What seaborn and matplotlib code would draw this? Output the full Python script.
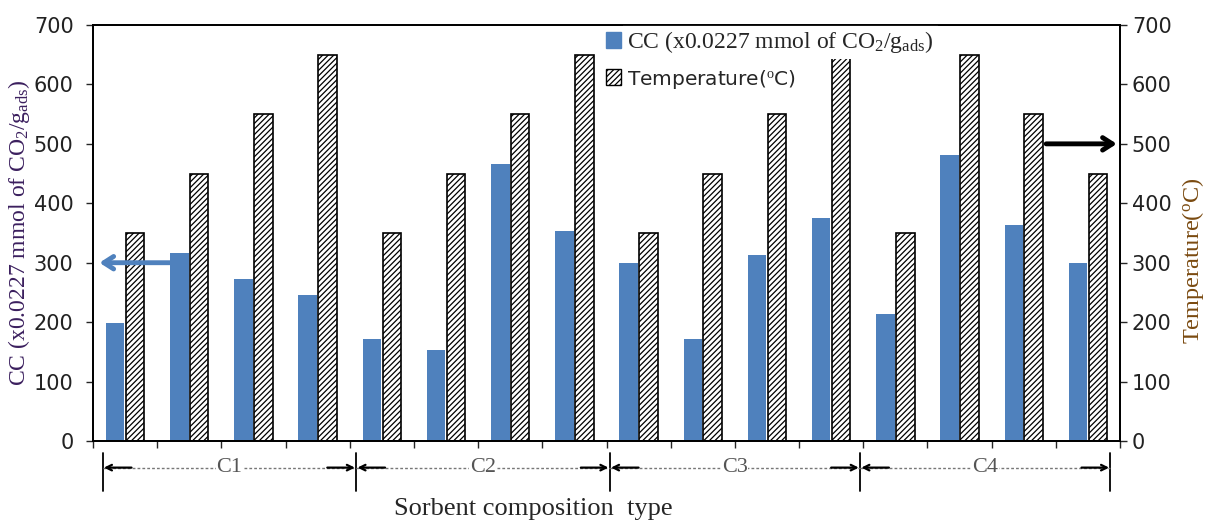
import numpy as np
import pandas as pd
import matplotlib
matplotlib.use("Agg")
import matplotlib.pyplot as plt
import matplotlib.transforms as mtransforms
from matplotlib.patches import Patch
import seaborn as sns

# ---- data ----
groups = ["C1", "C2", "C3", "C4"]
cc_values = [198, 317, 272, 246, 172, 153, 466, 354, 300, 172, 313, 376, 213, 482, 364, 300]
temp_values = [350, 450, 550, 650, 350, 450, 550, 650, 350, 450, 550, 650, 350, 650, 550, 450]
y_ticks = [0, 100, 200, 300, 400, 500, 600, 700]
cc_label = "CC (x0.0227 mmol of CO$_2$/g$_{\\mathrm{ads}}$)"
temp_label = "Temperature($^{\\mathrm{o}}$C)"
xlabel = "Sorbent composition  type"

cats = [f"{g}-{i+1}" for g in groups for i in range(4)]
df = pd.DataFrame({
    "cat": cats * 2,
    "value": cc_values + temp_values,
    "series": ["CC"] * len(cats) + ["Temp"] * len(cats),
})

sns.set_style("white")
plt.rcParams["font.family"] = ["DejaVu Sans"]
plt.rcParams["mathtext.fontset"] = "custom"
plt.rcParams["mathtext.rm"] = "Liberation Serif"
plt.rcParams["mathtext.it"] = "Liberation Serif:italic"
plt.rcParams["hatch.linewidth"] = 0.9

blue = "#4F81BD"
fig = plt.figure(figsize=(12.06, 5.23), dpi=100)
ax = fig.add_axes([93 / 1206, 1 - 441 / 523, 1027 / 1206, 416 / 523])

sns.barplot(data=df, x="cat", y="value", hue="series", order=cats,
            hue_order=["CC", "Temp"], palette=[blue, "white"],
            width=0.62, gap=0.07, ax=ax, legend=False, saturation=1)

n = len(cats)
for i, p in enumerate(ax.patches[:2 * n]):
    if i >= n:
        p.set_hatch("//////")
        p.set_edgecolor("black")
        p.set_linewidth(1.2)
    else:
        p.set_edgecolor(blue)
        p.set_linewidth(0)

ax.set_xlim(-0.5, n - 0.5)
ax.set_ylim(0, 700)
ax.set_yticks(y_ticks)
ax.set_xticks(np.arange(-0.5, n, 1.0))
ax.set_xticklabels([])
ax.set_xlabel("")
ax.set_ylabel(cc_label, family="Liberation Serif", fontsize=17, color="#3b1f5e", labelpad=1)
ax.tick_params(axis="y", labelsize=15, direction="out", length=5, width=1, left=True,
               labelcolor="#222222", pad=9)
ax.tick_params(axis="x", direction="out", length=5, width=1, bottom=True)
for s in ax.spines.values():
    s.set_color("black")
    s.set_linewidth(1.3)

ax2 = ax.twinx()
ax2.set_ylim(0, 700)
ax2.set_yticks(y_ticks)
ax2.tick_params(axis="y", labelsize=15, direction="out", length=5, width=1, right=True,
                labelcolor="#222222")
ax2.set_ylabel(temp_label, family="Liberation Serif", fontsize=17.5, color="#7a4a10")
ax2.yaxis.set_label_coords(1.058, 0.433)
for s in ax2.spines.values():
    s.set_color("black")
    s.set_linewidth(1.3)
    s.set_zorder(10)

# legend
handles = [Patch(facecolor=blue, edgecolor=blue),
           Patch(facecolor="white", edgecolor="black", hatch="//////")]
leg = ax2.legend(handles, [cc_label, temp_label], loc="upper left",
                 bbox_to_anchor=(0.483, 1.03), frameon=False,
                 handlelength=0.65, handleheight=0.65,
                 handletextpad=0.25, borderpad=0.2, labelspacing=0.55,
                 prop={"family": "Liberation Serif", "size": 17})
leg.set_zorder(5)
leg.get_texts()[0].set_bbox(dict(facecolor="white", edgecolor="none", pad=3))
leg.get_texts()[1].set_family("DejaVu Sans")
leg.get_texts()[1].set_fontsize(14.5)

# group annotations below axis
trans = mtransforms.blended_transform_factory(ax.transData, ax.transAxes)
bounds = [-0.35, 3.6, 7.55, 11.45, 15.35]
yb = -0.064
for b in bounds:
    ax.plot([b, b], [yb + 0.035, yb - 0.055], color="black", lw=1.3, transform=trans, clip_on=False)
for g, (a, b) in zip(groups, zip(bounds[:-1], bounds[1:])):
    ax.plot([a, b], [yb, yb], color="#777777", lw=1.0, ls=(0, (2, 1.5)), transform=trans, clip_on=False)
    ax.annotate("", xy=(a + 0.02, yb), xytext=(a + 0.45, yb), xycoords=trans, textcoords=trans,
                arrowprops=dict(arrowstyle="->", color="black", lw=1.6, shrinkA=0, shrinkB=0))
    ax.annotate("", xy=(b - 0.02, yb), xytext=(b - 0.45, yb), xycoords=trans, textcoords=trans,
                arrowprops=dict(arrowstyle="->", color="black", lw=1.6, shrinkA=0, shrinkB=0))
    ax.text((a + b) / 2, yb, g, transform=trans, ha="center", va="center",
            family="Liberation Serif", fontsize=16, color="#555555",
            bbox=dict(facecolor="white", edgecolor="none", pad=0.5))

fig.text(533 / 1206, 1 - 509 / 523, xlabel, ha="center", va="center",
         family="Liberation Serif", fontsize=19)

# indicator arrows
ax.annotate("", xy=(-0.4, 300), xytext=(0.75, 300), xycoords="data", textcoords="data",
            arrowprops=dict(arrowstyle="->,head_length=0.7,head_width=0.45", color=blue, lw=3.5,
                            shrinkA=0, shrinkB=0))
ax.annotate("", xy=(15.45, 500), xytext=(14.35, 500), xycoords="data", textcoords="data",
            arrowprops=dict(arrowstyle="->,head_length=0.7,head_width=0.45", color="black", lw=3.5,
                            shrinkA=0, shrinkB=0))

fig.savefig("out.png", dpi=100)
